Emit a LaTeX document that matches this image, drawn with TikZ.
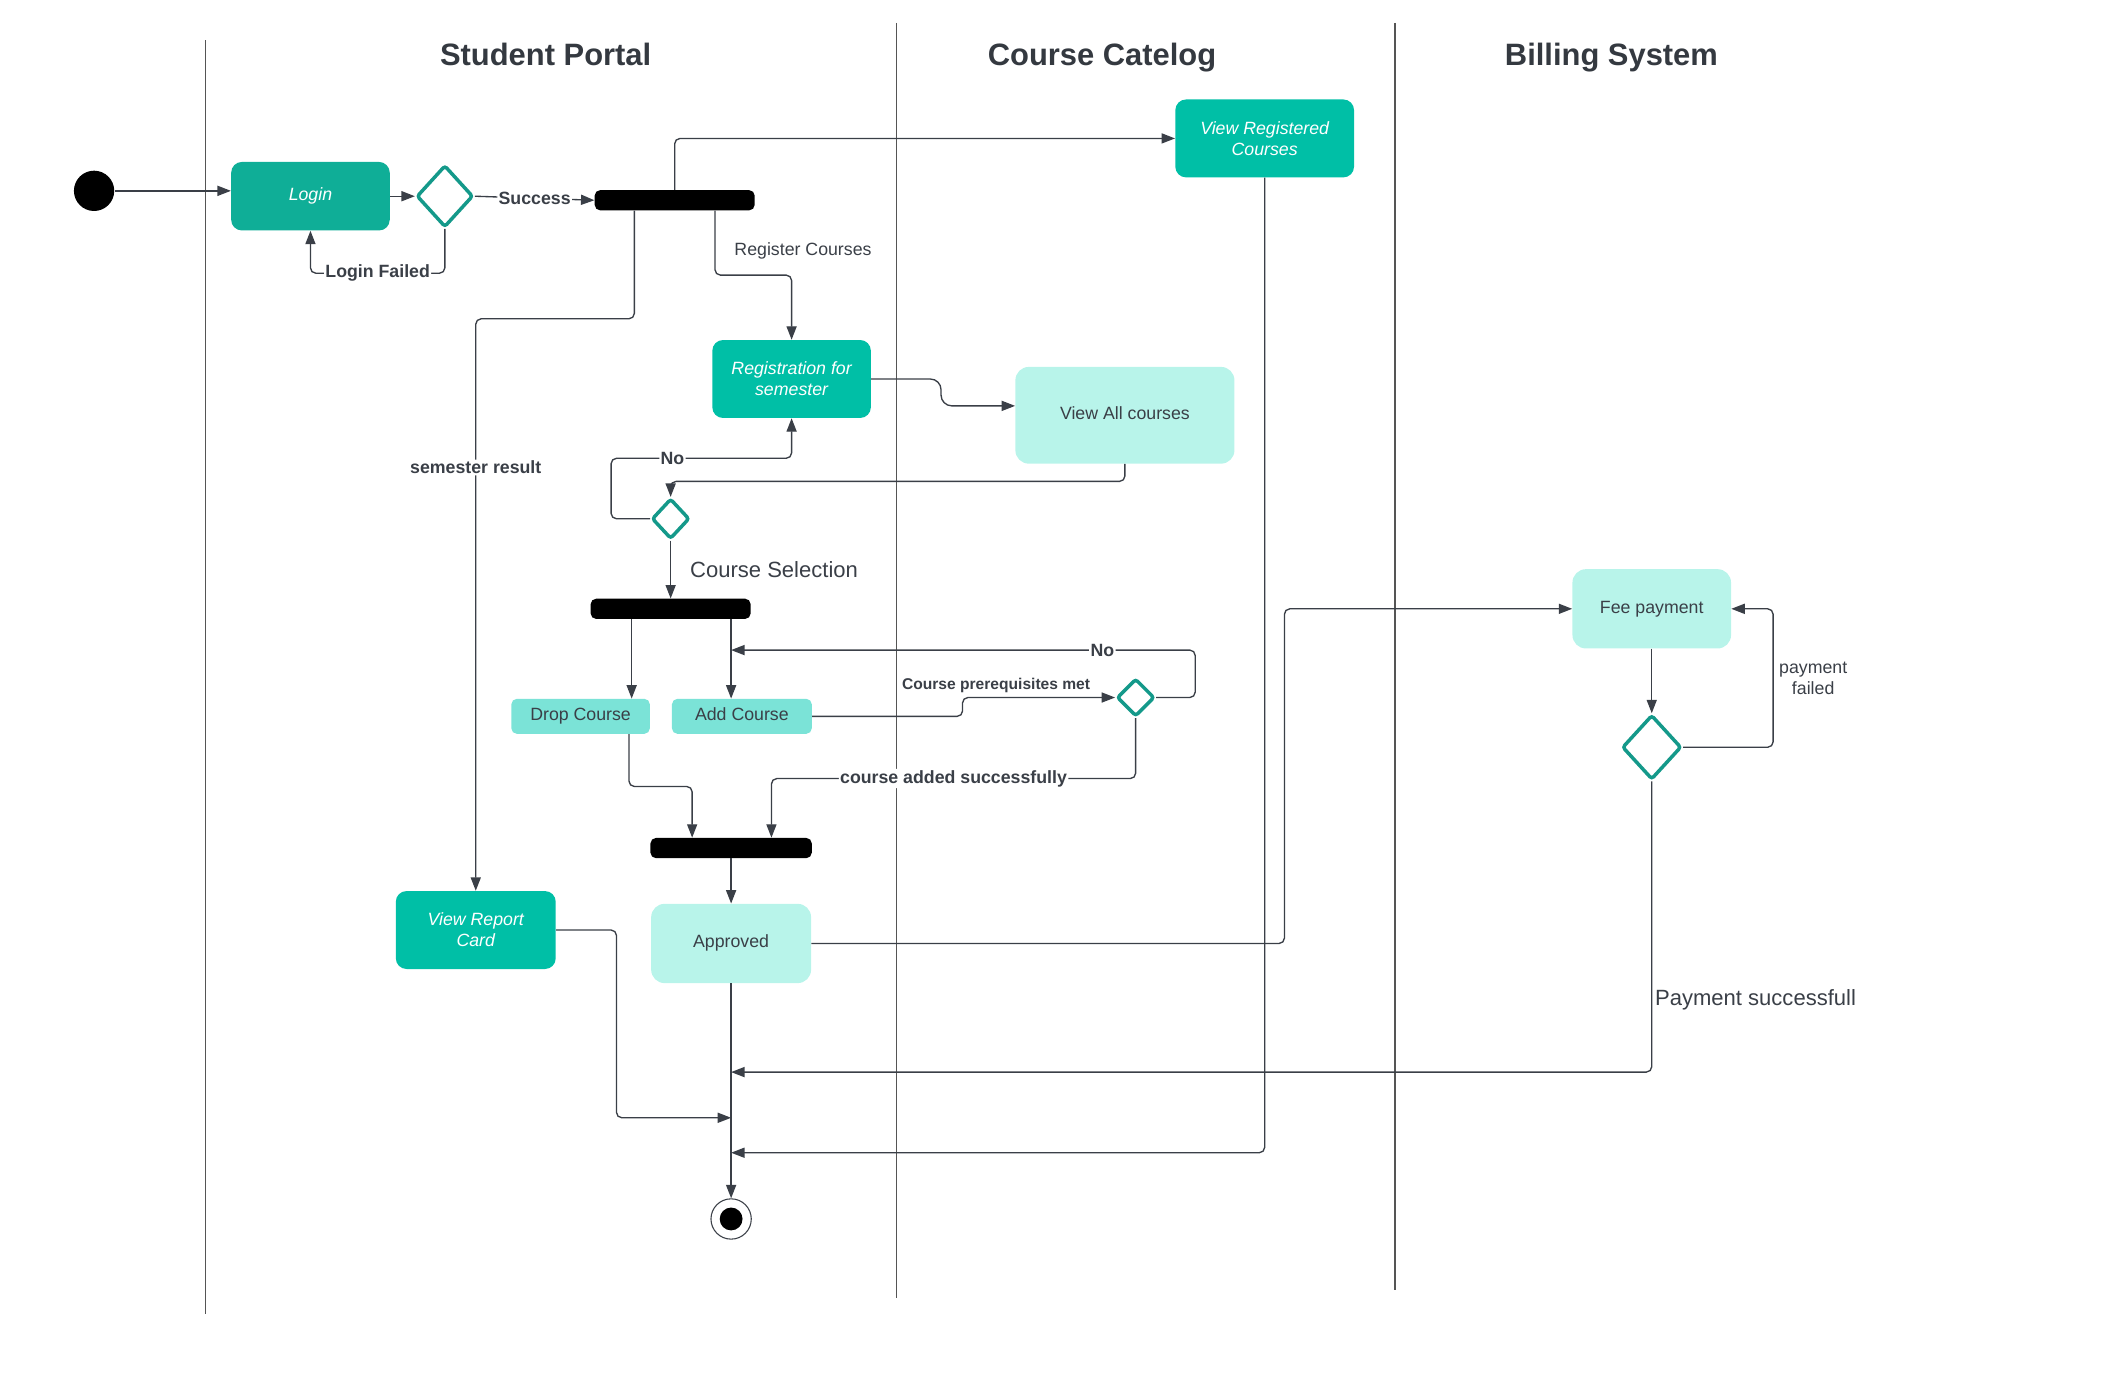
\documentclass[tikz,border=0pt]{standalone}
\usepackage{fontspec}
\setmainfont{Liberation Sans}
\usetikzlibrary{shapes.geometric,arrows.meta,positioning}

\definecolor{tealA}{HTML}{0FAE97}
\definecolor{tealB}{HTML}{00BFA6}
\definecolor{tealC}{HTML}{7BE3D7}
\definecolor{tealD}{HTML}{B8F4EA}
\definecolor{decline}{HTML}{14998A}
\definecolor{ink}{HTML}{3A3F47}
\definecolor{lanegray}{HTML}{555555}

\newcommand{\basefont}{\fontsize{13.2}{15.5}\selectfont}

\tikzset{
  act/.style={rounded corners=8pt, inner sep=0pt, align=center, text=white, font=\basefont\itshape},
  softact/.style={rounded corners=10pt, inner sep=0pt, text height=9.5pt, text depth=3pt, text=ink, fill=tealD, font=\basefont},
  smallact/.style={rounded corners=4pt, inner sep=0pt, text height=9.5pt, text depth=3pt, text=ink, fill=tealC, font=\basefont},
  dec/.style={diamond, draw=decline, fill=white, line width=2.6pt, rounded corners=2pt, inner sep=0pt},
  bar/.style={fill=black, rounded corners=4pt, inner sep=0pt, minimum height=15pt},
  flow/.style={draw=ink, line width=1pt, rounded corners=4pt, -{Triangle[length=10pt,width=7.5pt]}},
  lbl/.style={fill=white, inner sep=1pt, text=ink, font=\basefont\bfseries},
  txt/.style={inner sep=1pt, text=ink, font=\basefont},
  lanetitle/.style={anchor=base, text=ink!90!black, font=\fontsize{23}{27}\selectfont\bfseries},
  lane/.style={draw=lanegray, line width=1pt}
}

\begin{document}
\begin{tikzpicture}[x=1pt,y=-1pt]
\useasboundingbox (0,0) rectangle (1567,1026.8);

% swimlanes
\draw[lane] (153,30) -- (153,978);
\draw[lane] (667,17) -- (667,966);
\draw[lane] (1038,17) -- (1038,960);
\node[lanetitle] at (406,49) (tportal){Student Portal};
\node[lanetitle] at (820,49) (tcatalog){Course Catelog};
\node[lanetitle] at (1199,49) (tbilling){Billing System};

\node[circle,fill=black,minimum size=30pt,inner sep=0pt] at (70,142) (start){};
\node[act,fill=tealA,minimum width=118pt,minimum height=51pt] at (231,146) (login){Login};
\node[dec,minimum width=42pt,minimum height=46pt] at (331,146) (d1){};
\node[bar,minimum width=119pt] at (502,149) (fork1){};
\node[act,fill=tealB,minimum width=133pt,minimum height=58pt] at (941,103) (viewreg){View Registered\\Courses};
\node[act,fill=tealB,minimum width=118pt,minimum height=58pt] at (589,282) (regsem){Registration for\\semester};
\node[softact,minimum width=163pt,minimum height=72pt] at (837,309) (viewall){View All courses};
\node[dec,minimum width=28pt,minimum height=30pt] at (499,386) (d2){};
\node[bar,minimum width=119pt] at (499,453) (fork2){};
\node[smallact,minimum width=103pt,minimum height=26pt] at (432,533) (dropc){Drop Course};
\node[smallact,minimum width=104pt,minimum height=26pt] at (552,533) (addc){Add Course};
\node[dec,minimum width=28pt,minimum height=28pt] at (845,519) (d3){};
\node[bar,minimum width=120pt] at (544,631) (fork3){};
\node[softact,minimum width=119pt,minimum height=59pt] at (544,702) (approved){Approved};
\node[act,fill=tealB,minimum width=119pt,minimum height=58pt] at (354,692) (report){View Report\\Card};
\node[softact,minimum width=118pt,minimum height=59pt] at (1229,453) (fee){Fee payment};
\node[dec,minimum width=44pt,minimum height=48pt] at (1229,556) (d4){};
\node[circle,draw=ink,line width=0.8pt,minimum size=30pt,inner sep=0pt] at (544,907) (stop){};
\node[circle,fill=black,minimum size=17pt,inner sep=0pt] at (stop) (stopdot){};

\draw[flow] (start) -- (login.west |- start);
\draw[flow] (login.east) -- (d1.west);
\draw[flow] (d1.east) -- node[lbl]{Success} (fork1.west);
\draw[flow] (d1.south) -- ++(0,33) -| node[lbl,pos=0.25]{Login Failed} (login.south);
\draw[flow] (fork1.north) |- (viewreg.west);
\draw[flow] ([xshift=30pt]fork1.south) -- node[txt,right=13pt,pos=0.63]{Register Courses} ++(0,48) -| (regsem.north);
\draw[flow] ([xshift=-30pt]fork1.south) -- ++(0,80.5) -| node[lbl,pos=0.63]{semester result} (report.north);
\draw[flow,rounded corners=8pt] (regsem.east) -- ++(52,0) |- ([yshift=7pt]viewall.west);
\draw[flow] (viewall.south) -- ++(0,13) -| (d2.north);
\draw[flow] (d2.west) -| ++(-29,-45) -| node[lbl,pos=0.17]{No} (regsem.south);
\draw[flow] (d2.south) -- node[txt,right=13pt,font=\fontsize{16.4}{19}\selectfont]{Course Selection} (fork2.north);
\draw[flow] ([xshift=-29pt]fork2.south) -- ([xshift=-29pt]fork2.south |- dropc.north);
\draw[flow] ([xshift=45pt]fork2.south) -- ([xshift=45pt]fork2.south |- addc.north);
\draw[flow] (addc.east) -- ++(112,0) |- node[txt,above=2pt,pos=0.61,font=\fontsize{11.6}{14}\selectfont\bfseries]{Course prerequisites met} (d3.west);
\draw[flow] (d3.east) -- ++(29,0) |- node[lbl,pos=0.6]{No} ([xshift=45pt,yshift=-23pt]fork2.south);
\draw[flow] (d3.south) -- ++(0,45) -| node[lbl,pos=0.25]{course added successfully} ([xshift=30pt]fork3.north);
\draw[flow] ([xshift=36pt]dropc.south) -- ++(0,39) -| ([xshift=-29pt]fork3.north);
\draw[flow] (fork3.south) -- (approved.north);
\draw[flow] (approved.east) -- ++(352,0) |- (fee.west);
\draw[flow] (fee.south) -- (d4.north);
\draw[flow] (d4.east) -- ++(67,0) |- node[txt,right=3pt,pos=0.25,align=center]{payment\\failed} (fee.east);
\draw[flow] (d4.south) |- node[txt,right=1pt,pos=0.375,font=\fontsize{16.4}{19}\selectfont]{Payment successfull} ([yshift=-66pt]approved.south);
\draw[flow] (report.east) -- ++(45,0) |- ([yshift=-100pt]approved.south);
\draw[flow] (viewreg.south) |- ([yshift=-126pt]approved.south);
\draw[flow] (approved.south) -- (stop.north);

\end{tikzpicture}
\end{document}
